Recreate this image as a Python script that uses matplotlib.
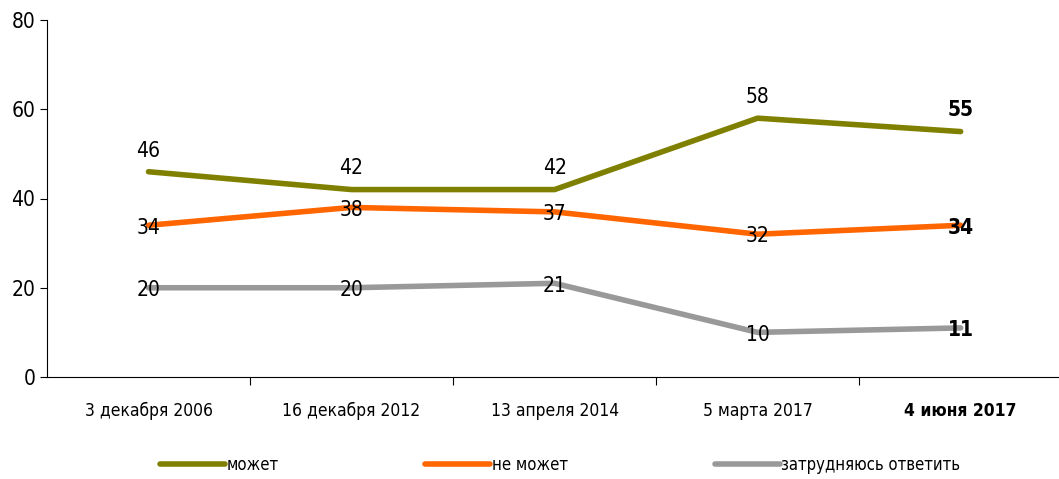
import matplotlib.pyplot as plt

plt.rcParams['font.family'] = ['DejaVu Sans']
plt.rcParams['font.stretch'] = 'condensed'

# Data
dates = ['3 декабря 2006', '16 декабря 2012', '13 апреля 2014', '5 марта 2017', '4 июня 2017']
can = [46, 42, 42, 58, 55]
cannot = [34, 38, 37, 32, 34]
hard = [20, 20, 21, 10, 11]

series = [('может', can, '#808000'),
          ('не может', cannot, '#ff6600'),
          ('затрудняюсь ответить', hard, '#999999')]

fig = plt.figure(figsize=(10.59, 4.79), dpi=100)
ax = fig.add_axes([47 / 1059, 1 - 377 / 479, 1 - 47 / 1059 + 0.003, 357 / 479])

x = list(range(len(dates)))
for name, vals, color in series:
    ax.plot(x, vals, color=color, linewidth=4, label=name, solid_capstyle='round', zorder=2)

# value labels
last = len(dates) - 1
for i, v in enumerate(can):
    ax.text(i, v + 2.5, str(v), ha='center', va='bottom', fontsize=15,
            fontweight='bold' if i == last else 'normal', zorder=3)
for vals in (cannot, hard):
    for i, v in enumerate(vals):
        ax.text(i, v - 0.5, str(v), ha='center', va='center', fontsize=15,
                fontweight='bold' if i == last else 'normal', zorder=3)

ax.set_ylim(0, 80)
ax.set_yticks([0, 20, 40, 60, 80])
ax.set_xlim(-0.5, len(dates) - 0.5)
ax.set_xticks([i + 0.5 for i in range(len(dates) - 1)])
ax.set_xticklabels([])
ax.tick_params(axis='x', length=6, direction='out')
ax.tick_params(axis='y', length=5, labelsize=15)
for i, d in enumerate(dates):
    ax.text(i, -5.5, d, ha='center', va='top', fontsize=12.5,
            fontweight='bold' if i == last else 'normal')

ax.spines['top'].set_visible(False)
ax.spines['right'].set_visible(False)

leg = fig.legend(loc='lower center', bbox_to_anchor=(0.529, -0.02), ncol=3, frameon=False,
                 fontsize=12, columnspacing=8.8, handlelength=3.9, handletextpad=0.1)

fig.savefig('out.png', dpi=100)
